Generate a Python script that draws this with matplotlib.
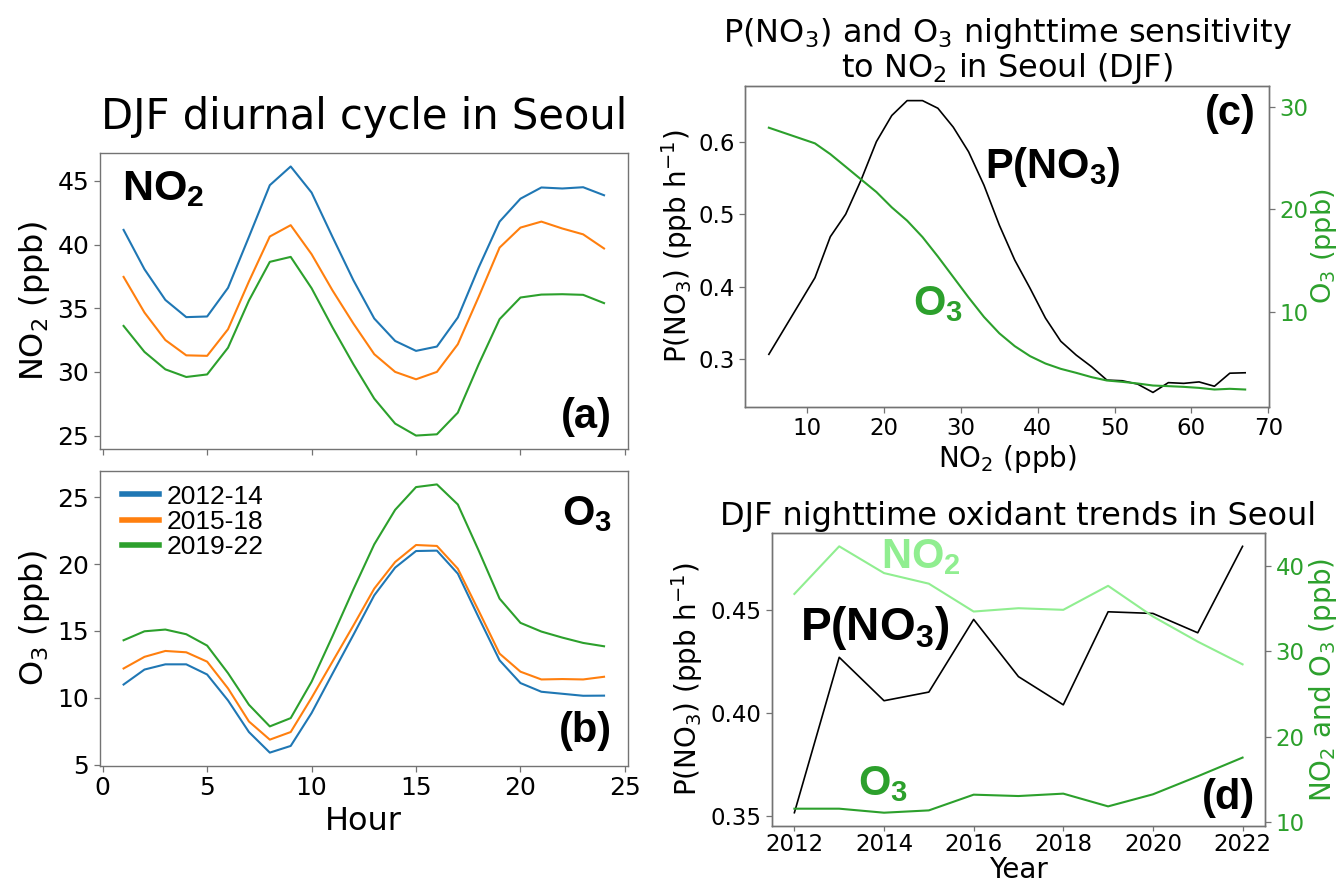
import matplotlib
matplotlib.use('Agg')
import matplotlib.pyplot as plt
from matplotlib.ticker import FormatStrFormatter

plt.rcParams['font.family'] = ['DejaVu Sans']
plt.rcParams['mathtext.fontset'] = 'dejavusans'
plt.rcParams['mathtext.rm'] = 'Liberation Sans:bold'
plt.rcParams['mathtext.it'] = 'Liberation Sans:bold'
plt.rcParams['mathtext.bf'] = 'Liberation Sans:bold'

# ---------------- data ----------------
hours = [1, 2, 3, 4, 5, 6, 7, 8, 9, 10, 11, 12, 13, 14, 15, 16, 17, 18, 19, 20, 21, 22, 23, 24]
periods = ['2012-14', '2015-18', '2019-22']

no2_1214 = [41.15, 38.06, 35.65, 34.3, 34.35, 36.6, 40.6, 44.66, 46.13, 44.08, 40.6, 37.2,
            34.19, 32.43, 31.65, 31.99, 34.27, 38.2, 41.8, 43.6, 44.48, 44.4, 44.5, 43.87]
no2_1518 = [37.46, 34.66, 32.5, 31.3, 31.26, 33.35, 37.1, 40.63, 41.52, 39.24, 36.4, 33.8,
            31.39, 30.0, 29.42, 30.0, 32.17, 35.9, 39.76, 41.33, 41.8, 41.26, 40.8, 39.69]
no2_1922 = [33.61, 31.57, 30.2, 29.6, 29.8, 31.9, 35.6, 38.64, 39.03, 36.57, 33.5, 30.6,
            27.9, 25.94, 25.0, 25.1, 26.8, 30.6, 34.14, 35.84, 36.07, 36.1, 36.05, 35.4]

o3_1214 = [10.99, 12.11, 12.5, 12.5, 11.74, 9.8, 7.44, 5.9, 6.4, 8.86, 11.8, 14.7,
           17.66, 19.73, 20.97, 21.0, 19.28, 16.0, 12.8, 11.1, 10.45, 10.3, 10.15, 10.16]
o3_1518 = [12.19, 13.06, 13.5, 13.4, 12.7, 10.7, 8.23, 6.87, 7.44, 10.0, 12.7, 15.4,
           18.16, 20.15, 21.42, 21.35, 19.65, 16.5, 13.3, 11.95, 11.37, 11.4, 11.37, 11.57]
o3_1922 = [14.3, 14.97, 15.1, 14.75, 13.9, 11.84, 9.48, 7.86, 8.48, 11.2, 14.6, 18.1,
           21.47, 24.05, 25.75, 25.95, 24.45, 21.0, 17.41, 15.6, 14.95, 14.5, 14.1, 13.85]

no2_bins = [5, 11, 13, 15, 17, 19, 21, 23, 25, 27, 29, 31, 33, 35, 37, 39, 41, 43, 45,
            47, 49, 51, 53, 55, 57, 59, 61, 63, 65, 67]
pno3_vs_no2 = [0.307, 0.4125, 0.469, 0.50, 0.547, 0.600, 0.636, 0.6565, 0.6565, 0.646,
               0.620, 0.586, 0.540, 0.485, 0.437, 0.398, 0.357, 0.325, 0.306, 0.29,
               0.2715, 0.2706, 0.266, 0.2545, 0.268, 0.267, 0.269, 0.263, 0.281, 0.2816]
o3_vs_no2 = [27.98, 26.45, 25.4, 24.17, 22.93, 21.7, 20.2, 18.9, 17.3, 15.4, 13.4, 11.4,
             9.5, 7.9, 6.65, 5.67, 4.95, 4.43, 4.04, 3.62, 3.29, 3.16, 3.0, 2.8, 2.74,
             2.67, 2.57, 2.41, 2.48, 2.41]

years = [2012, 2013, 2014, 2015, 2016, 2017, 2018, 2019, 2020, 2021, 2022]
pno3_year = [0.3516, 0.4271, 0.4060, 0.4102, 0.4455, 0.4177, 0.404, 0.4492, 0.4484, 0.439, 0.481]
no2_year = [36.7, 42.27, 39.14, 37.9, 34.64, 35.03, 34.84, 37.65, 34.06, 31.12, 28.46]
o3_year = [11.57, 11.57, 11.1, 11.37, 13.21, 13.05, 13.33, 11.84, 13.25, 15.36, 17.55]

# ---------------- style ----------------
C_BLUE, C_ORANGE, C_GREEN = '#1f77b4', '#ff7f0e', '#2ca02c'
C_LIGHT = '#90ee90'
SPINE = '0.45'


def style(ax, size):
    for s in ax.spines.values():
        s.set_color(SPINE)
        s.set_linewidth(1.0)
    ax.tick_params(colors=SPINE, labelcolor='black', labelsize=size, width=0.9, length=4)


def blabel(ax, x, y, s, color='black', ha='left', va='baseline', size=30):
    ax.text(x, y, s, transform=ax.transAxes, ha=ha, va=va, fontsize=size,
            fontweight='bold', family='Liberation Sans', color=color,
            math_fontfamily='custom', zorder=10)


fig = plt.figure(figsize=(13.4, 8.86), dpi=100)

# ---------- (a) ----------
axa = fig.add_axes([0.0743, 0.4932, 0.3944, 0.3341])
axb = fig.add_axes([0.0743, 0.1354, 0.3944, 0.3330], sharex=axa)

for vals, c, lab in zip([no2_1214, no2_1518, no2_1922], [C_BLUE, C_ORANGE, C_GREEN], periods):
    axa.plot(hours, vals, color=c, lw=1.5, label=lab)
style(axa, 18)
axa.set_yticks([25, 30, 35, 40, 45])
axa.tick_params(labelbottom=False)
axa.set_ylabel('NO$_2$ (ppb)', fontsize=23)
axa.set_title('DJF diurnal cycle in Seoul', fontsize=30, pad=17)
blabel(axa, 0.043, 0.84, 'NO$_2$', size=31)
blabel(axa, 0.97, 0.04, '(a)', ha='right', va='bottom')

# ---------- (b) ----------
for vals, c, lab in zip([o3_1214, o3_1518, o3_1922], [C_BLUE, C_ORANGE, C_GREEN], periods):
    axb.plot(hours, vals, color=c, lw=1.5, label=lab)
style(axb, 18)
axb.set_yticks([5, 10, 15, 20, 25])
axb.set_xticks([0, 5, 10, 15, 20, 25])
axb.set_ylabel('O$_3$ (ppb)', fontsize=23)
axb.set_xlabel('Hour', fontsize=23)
blabel(axb, 0.97, 0.817, 'O$_3$', ha='right')
blabel(axb, 0.97, 0.05, '(b)', ha='right', va='bottom')
leg = axb.legend(loc='upper left', bbox_to_anchor=(0.0226, 0.99), borderaxespad=0,
                 frameon=False, prop={'family': 'Liberation Sans', 'size': 19},
                 handlelength=1.4, handletextpad=0.3, labelspacing=0.05)
for ln in leg.get_lines():
    ln.set_linewidth(4)

# ---------- (c) ----------
axc = fig.add_axes([0.5560, 0.5406, 0.3910, 0.3623])
axc.plot(no2_bins, pno3_vs_no2, color='black', lw=1.2)
style(axc, 16.5)
axc.set_xticks([10, 20, 30, 40, 50, 60, 70])
axc.set_yticks([0.3, 0.4, 0.5, 0.6])
axc.set_xlabel('NO$_2$ (ppb)', fontsize=20, labelpad=2)
axc.set_ylabel('P(NO$_3$) (ppb h$^{-1}$)', fontsize=20, labelpad=2)
axc.set_title('P(NO$_3$) and O$_3$ nighttime sensitivity\nto NO$_2$ in Seoul (DJF)',
              fontsize=23, pad=6, linespacing=1.0)
axc2 = axc.twinx()
axc2.plot(no2_bins, o3_vs_no2, color=C_GREEN, lw=1.5)
style(axc2, 16.5)
axc2.tick_params(labelcolor=C_GREEN)
axc2.set_ylim(0.7, 32.05)
axc2.set_yticks([10, 20, 30])
axc2.set_ylabel('O$_3$ (ppb)', fontsize=19.5, color=C_GREEN, labelpad=0)
blabel(axc2, 0.458, 0.713, 'P(NO$_3$)')
blabel(axc2, 0.32, 0.287, 'O$_3$', color=C_GREEN)
blabel(axc2, 0.975, 0.975, '(c)', ha='right', va='top')

# ---------- (d) ----------
axd = fig.add_axes([0.5761, 0.0677, 0.3679, 0.3307])
axd.plot(years, pno3_year, color='black', lw=1.2)
style(axd, 16.5)
axd.tick_params(axis='x', pad=1.5, length=3.5)
axd.set_xticks([2012, 2014, 2016, 2018, 2020, 2022])
axd.set_yticks([0.35, 0.40, 0.45])
axd.yaxis.set_major_formatter(FormatStrFormatter('%.2f'))
axd.set_xlabel('Year', fontsize=20, labelpad=0)
axd.set_ylabel('P(NO$_3$) (ppb h$^{-1}$)', fontsize=20)
axd.set_title('DJF nighttime oxidant trends in Seoul', fontsize=23, pad=6)
axd2 = axd.twinx()
axd2.plot(years, no2_year, color=C_LIGHT, lw=1.5)
axd2.plot(years, o3_year, color=C_GREEN, lw=1.5)
style(axd2, 16.5)
axd2.tick_params(labelcolor=C_GREEN)
axd2.set_yticks([10, 20, 30, 40])
axd2.set_ylabel('NO$_2$ and O$_3$ (ppb)', fontsize=20, color=C_GREEN, labelpad=2)
blabel(axd2, 0.221, 0.88, 'NO$_2$', color=C_LIGHT)
blabel(axd2, 0.057, 0.635, 'P(NO$_3$)', size=33)
blabel(axd2, 0.174, 0.106, 'O$_3$', color=C_GREEN)
blabel(axd2, 0.98, 0.027, '(d)', ha='right', va='bottom')

fig.savefig('out.png', dpi=100)
